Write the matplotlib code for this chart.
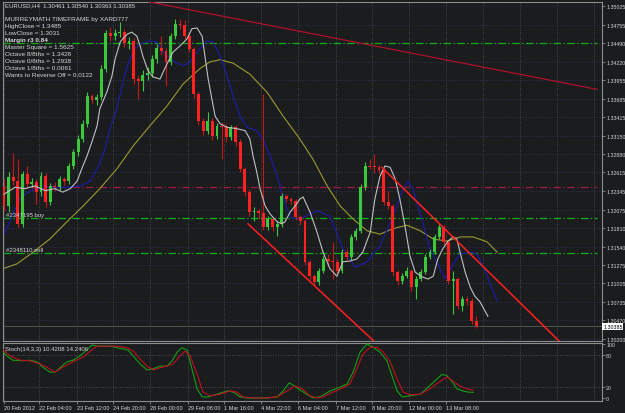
#!/usr/bin/env python3
"""
plot.py

EURUSD H4 candle chart in MT4 style: shifted moving averages, MurreyMath
info text, trend lines, order levels and a Stochastic sub-window.
Output: out.png
"""

import numpy as np
import matplotlib
matplotlib.use("Agg")
import matplotlib.pyplot as plt

# --- candles -----------------------------------------------------------------
first_open = 1.3240
closes = [
    1.3213, 1.3255, 1.3249, 1.3187, 1.3259, 1.3245, 1.3248, 1.3233, 1.3256, 1.3219,
    1.3242, 1.3240, 1.3252, 1.3249, 1.3271, 1.3291, 1.3310, 1.3332, 1.3372, 1.3367,
    1.3371, 1.3412, 1.3464, 1.3459, 1.3464, 1.3465, 1.3449, 1.3452, 1.3397, 1.3394,
    1.3403, 1.3406, 1.3426, 1.3442, 1.3438, 1.3422, 1.3459, 1.3477, 1.3476, 1.3459,
    1.3441, 1.3375, 1.3336, 1.3322, 1.3336, 1.3314, 1.3329, 1.3327, 1.3313, 1.3327,
    1.3306, 1.3267, 1.3233, 1.3204, 1.3206, 1.3203, 1.3182, 1.3194, 1.3182, 1.3187,
    1.3227, 1.3223, 1.3220, 1.3197, 1.3191, 1.3132, 1.3111, 1.3103, 1.3119, 1.3136,
    1.3133, 1.3132, 1.3119, 1.3146, 1.3139, 1.3168, 1.3177, 1.3240, 1.3271, 1.3270,
    1.3269, 1.3265, 1.3219, 1.3213, 1.3117, 1.3104, 1.3111, 1.3119, 1.3095, 1.3107,
    1.3117, 1.3139, 1.3146, 1.3168, 1.3182, 1.3161, 1.3104, 1.3107, 1.3068, 1.3078,
    1.3075, 1.30461, 1.30385]
highs = [
    1.3252, 1.3262, 1.3290, 1.3281, 1.3264, 1.3271, 1.3254, 1.3252, 1.3262, 1.3260,
    1.3246, 1.3247, 1.3256, 1.3255, 1.3275, 1.3296, 1.3316, 1.3338, 1.3378, 1.3375,
    1.3376, 1.3418, 1.3468, 1.3472, 1.3469, 1.3480, 1.3470, 1.3458, 1.3456, 1.3403,
    1.3410, 1.3414, 1.3432, 1.3448, 1.3459, 1.3442, 1.3464, 1.3484, 1.3484, 1.3483,
    1.3462, 1.3444, 1.3378, 1.3340, 1.3349, 1.3340, 1.3333, 1.3334, 1.3332, 1.3331,
    1.3330, 1.3310, 1.3270, 1.3237, 1.3211, 1.3209, 1.3375, 1.3198, 1.3197, 1.3191,
    1.3232, 1.3230, 1.3226, 1.3223, 1.3200, 1.3194, 1.3135, 1.3114, 1.3123, 1.3141,
    1.3143, 1.3161, 1.3136, 1.3150, 1.3150, 1.3172, 1.3181, 1.3245, 1.3276, 1.3281,
    1.3288, 1.3272, 1.3268, 1.3235, 1.3216, 1.3120, 1.3115, 1.3124, 1.3122, 1.3111,
    1.3121, 1.3143, 1.3150, 1.3172, 1.3188, 1.3185, 1.3164, 1.3119, 1.3110, 1.3082,
    1.3083, 1.3079, 1.30540]
lows = [
    1.3206, 1.3204, 1.3244, 1.3182, 1.3182, 1.3240, 1.3240, 1.3216, 1.3228, 1.3211,
    1.3214, 1.3235, 1.3236, 1.3243, 1.3245, 1.3266, 1.3286, 1.3305, 1.3328, 1.3362,
    1.3360, 1.3366, 1.3407, 1.3452, 1.3454, 1.3458, 1.3444, 1.3440, 1.3390, 1.3368,
    1.3380, 1.3396, 1.3400, 1.3420, 1.3432, 1.3387, 1.3418, 1.3455, 1.3470, 1.3455,
    1.3436, 1.3370, 1.3330, 1.3316, 1.3318, 1.3308, 1.3310, 1.3281, 1.3305, 1.3309,
    1.3300, 1.3262, 1.3228, 1.3198, 1.3191, 1.3194, 1.3178, 1.3178, 1.3177, 1.3170,
    1.3182, 1.3219, 1.3216, 1.3192, 1.3186, 1.3127, 1.3106, 1.3098, 1.3099, 1.3115,
    1.3126, 1.3107, 1.3115, 1.3115, 1.3134, 1.3135, 1.3164, 1.3173, 1.3236, 1.3266,
    1.3261, 1.3260, 1.3214, 1.3209, 1.3112, 1.3099, 1.3100, 1.3108, 1.3090, 1.3078,
    1.3104, 1.3114, 1.3136, 1.3143, 1.3165, 1.3157, 1.3100, 1.3056, 1.3063, 1.3060,
    1.3070, 1.3042, 1.30363]

# --- indicator lines (bar position, value) ----------------------------------
white_bars = [0, 2.4, 4.5, 6.7, 8.9, 11.0, 12.7, 14.3, 15.8, 16.8, 17.9, 19.0, 20.1,
              20.7, 22.2, 23.3, 24.0, 25.1, 26.6, 27.6, 28.7, 29.4, 30.0, 31.1, 32.2,
              33.7, 35.2, 36.5, 38.0, 39.5, 40.6, 41.7, 42.8, 43.4, 44.1, 44.9, 45.6,
              46.7, 48.2, 50.3, 52.1, 53.1, 53.8, 54.6, 55.3, 56.4, 57.5, 59.0, 60.0,
              60.7, 61.8, 62.9, 63.9, 64.6, 66.1, 67.6, 68.9, 70.4, 71.9, 73.2, 74.7,
              76.2, 77.5, 79.1, 80.1, 81.2, 82.3, 83.4, 84.5, 85.5, 86.6, 87.7, 88.8,
              90.3, 91.6, 92.7, 93.7, 94.8, 95.9, 97.0, 97.8, 98.5, 99.6, 100.7, 101.7,
              102.8, 104.5]
white_vals = [1.3230, 1.3240, 1.3238, 1.3242, 1.3235, 1.3238, 1.3233, 1.3238, 1.3249,
              1.3267, 1.3285, 1.3306, 1.3329, 1.3354, 1.3378, 1.3401, 1.3426, 1.3451,
              1.3462, 1.3465, 1.3459, 1.3445, 1.3430, 1.3409, 1.3400, 1.3397, 1.3419,
              1.3436, 1.3445, 1.3455, 1.3470, 1.3471, 1.3459, 1.3430, 1.3397, 1.3368,
              1.3343, 1.3332, 1.3327, 1.3325, 1.3322, 1.3310, 1.3285, 1.3262, 1.3238,
              1.3213, 1.3201, 1.3190, 1.3187, 1.3190, 1.3204, 1.3213, 1.3223, 1.3226,
              1.3204, 1.3175, 1.3146, 1.3122, 1.3111, 1.3132, 1.3133, 1.3136, 1.3146,
              1.3175, 1.3223, 1.3256, 1.3271, 1.3269, 1.3252, 1.3223, 1.3184, 1.3140,
              1.3117, 1.3110, 1.3107, 1.3111, 1.3136, 1.3151, 1.3162, 1.3168, 1.3165,
              1.3146, 1.3117, 1.3095, 1.3082, 1.3074, 1.3053]

blue_bars = [-0.2, 1.3, 2.4, 3.5, 4.5, 6.7, 9.9, 12.1, 14.3, 16.4, 18.6, 20.7, 21.8,
             22.9, 24.0, 25.1, 26.1, 27.2, 28.3, 29.4, 31.5, 33.0, 34.8, 36.9, 38.7,
             40.2, 42.3, 43.8, 45.1, 46.7, 48.2, 49.5, 51.0, 52.5, 54.6, 55.9, 57.5,
             59.0, 60.0, 61.1, 62.2, 63.9, 67.6, 70.4, 73.2, 75.8, 78.4, 81.2, 84.0,
             86.2, 87.3, 88.3, 89.9, 92.0, 95.3, 97.0, 98.5, 100.7, 102.2, 103.9, 106.5]
blue_vals = [1.3169, 1.3191, 1.3209, 1.3223, 1.3230, 1.3238, 1.3240, 1.3240, 1.3240,
             1.3242, 1.3249, 1.3274, 1.3296, 1.3325, 1.3346, 1.3375, 1.3404, 1.3426,
             1.3441, 1.3448, 1.3452, 1.3451, 1.3433, 1.3422, 1.3416, 1.3422, 1.3441,
             1.3452, 1.3451, 1.3430, 1.3401, 1.3372, 1.3343, 1.3327, 1.3322, 1.3310,
             1.3285, 1.3256, 1.3233, 1.3209, 1.3195, 1.3194, 1.3206, 1.3198, 1.3151,
             1.3124, 1.3132, 1.3155, 1.3198, 1.3238, 1.3249, 1.3238, 1.3201, 1.3151,
             1.3107, 1.3129, 1.3143, 1.3146, 1.3143, 1.3119, 1.3075]

yellow_bars = [-0.2, 2.8, 6.3, 9.9, 13.6, 17.1, 20.7, 24.4, 27.9, 31.5, 35.2, 38.7,
               42.3, 44.5, 46.7, 49.5, 53.1, 56.8, 60.3, 63.9, 66.7, 69.8, 72.6, 75.4,
               78.4, 81.2, 84.0, 87.0, 89.9, 92.7, 95.7, 98.5, 101.3, 104.3, 106.5]
yellow_vals = [1.3122, 1.3129, 1.3146, 1.3165, 1.3190, 1.3213, 1.3238, 1.3267, 1.3300,
               1.3329, 1.3358, 1.3390, 1.3412, 1.3422, 1.3425, 1.3420, 1.3404, 1.3378,
               1.3343, 1.3310, 1.3281, 1.3242, 1.3213, 1.3194, 1.3177, 1.3172, 1.3180,
               1.3185, 1.3177, 1.3165, 1.3162, 1.3168, 1.3168, 1.3161, 1.3146]

stoch_main_bars = [-0.4, 0.6, 1.9, 4.1, 5.6, 7.1, 8.4, 9.9, 11.0, 12.1, 13.6, 14.9,
                   16.4, 17.9, 19.0, 20.1, 21.4, 22.9, 24.4, 25.7, 26.8, 27.9, 29.4,
                   30.9, 32.2, 33.7, 35.2, 36.3, 37.4, 38.4, 39.5, 40.6, 41.7, 42.8,
                   44.1, 46.0, 48.2, 49.5, 51.0, 52.5, 54.6, 56.8, 59.0, 60.3, 61.6,
                   62.4, 63.9, 65.4, 66.7, 68.3, 70.4, 72.6, 74.1, 75.4, 76.9, 78.4,
                   79.7, 81.2, 82.7, 83.8, 84.9, 86.0, 87.7, 89.9, 91.6, 93.5, 94.6,
                   95.7, 96.8, 97.8, 99.1, 100.2, 101.3]
stoch_main_vals = [87, 78, 70, 69, 70, 67, 57, 48, 48, 56, 67, 70, 78, 89, 98, 96, 96,
                   96, 93, 91, 89, 78, 63, 52, 54, 59, 59, 69, 85, 93, 89, 54, 17, 2,
                   2, 7, 13, 11, 2, 0, 0, 0, 2, 13, 28, 24, 15, 7, 0, 2, 13, 20, 26,
                   48, 85, 100, 94, 85, 69, 41, 13, 2, 4, 7, 20, 35, 44, 41, 30, 17,
                   13, 11, 10.42]

stoch_sig_bars = [-0.4, 1.3, 3.5, 5.6, 7.8, 9.9, 11.0, 12.7, 14.9, 17.1, 18.6, 20.1,
                  22.2, 24.4, 26.6, 27.9, 29.4, 30.9, 32.2, 33.7, 35.2, 36.5, 38.0,
                  39.1, 40.2, 41.7, 43.0, 44.5, 46.7, 48.8, 50.3, 51.6, 53.8, 56.8,
                  59.0, 61.1, 62.9, 64.4, 66.1, 67.6, 68.9, 71.1, 73.2, 74.7, 76.2,
                  77.5, 79.1, 80.6, 81.9, 83.4, 84.9, 86.2, 87.7, 89.9, 92.0, 94.2,
                  95.7, 97.0, 98.5, 100.0, 101.3]
stoch_sig_vals = [91, 78, 70, 69, 63, 54, 48, 57, 67, 76, 87, 96, 96, 96, 93, 87, 72,
                  59, 52, 56, 59, 63, 78, 87, 78, 44, 11, 4, 7, 13, 11, 2, 0, 0, 2,
                  13, 22, 17, 4, 0, 2, 11, 19, 26, 54, 81, 94, 94, 85, 67, 35, 11, 6,
                  7, 17, 31, 39, 31, 22, 17, 14.24]

# --- levels, trend lines, axis labels ---------------------------------------
price_ticks = [1.35025, 1.34755, 1.34490, 1.34220, 1.33955, 1.33685, 1.33415,
               1.33150, 1.32880, 1.32615, 1.32345, 1.32075, 1.31810, 1.31540,
               1.31275, 1.31005, 1.30735, 1.30470, 1.30200]
last_price = 1.30385
green_levels = [1.34490, 1.31955, 1.31447]
pivot_level = 1.32404
trend_top_bars = [30.5, 128.1]
trend_top_vals = [1.3510, 1.3382]
channel_low_bars = [52.7, 80.2]
channel_low_vals = [1.3187, 1.3015]
channel_high_bars = [81.6, 120.2]
channel_high_vals = [1.3269, 1.3015]

date_ticks = [-0.1, 7.6, 15.8, 23.5, 31.5, 39.7, 47.5, 55.5, 63.5, 71.7, 79.5,
              87.5, 95.5]
date_labels = ["20 Feb 2012", "22 Feb 04:00", "23 Feb 12:00", "24 Feb 20:00",
               "28 Feb 00:00", "29 Feb 08:00", "1 Mar 16:00", "4 Mar 22:00",
               "6 Mar 04:00", "7 Mar 12:00", "8 Mar 20:00", "12 Mar 00:00",
               "13 Mar 08:00"]
empty_grid = [103.5, 111.5, 119.5, 127.5]

info_lines = ["MURREYMATH TIMEFRAME by XARD777", "HighClose = 1.3485",
              "LowClose = 1.3031", "Margin r3 0.84", "Master Square = 1.5625",
              "Octave 8/8ths = 1.3428", "Octave 0/8ths = 1.2938",
              "Octave 1/8ths = 0.0061", "Wants to Reverse Off = 0.0122"]

BG = "#1b1c1e"
TXT = "#d6d6d6"
UP = "#3cc83c"
DOWN = "#ff2222"
FONT = "Liberation Sans"

W, H = 625, 414
XL = (-1 / 4.63, 598 / 4.63)


def fx(px):
    return px / W


def fy(py):
    return 1 - py / H


def style_axes(ax):
    ax.set_facecolor(BG)
    for s in ax.spines.values():
        s.set_color("#8c8c8c")
        s.set_linewidth(0.8)
    ax.set_xlim(*XL)


def draw_grid(ax, yvals):
    for x in date_ticks + empty_grid:
        ax.axvline(x, color="#6e6e6e", lw=0.5, ls=(0, (1, 2.5)), zorder=0)
    for y in yvals:
        ax.axhline(y, color="#3c4276", lw=0.5, ls=(0, (1, 2.5)), zorder=0)


def draw_candles(ax):
    c = np.array(closes)
    o = np.array([first_open] + closes[:-1])
    hi = np.array(highs)
    lo = np.array(lows)
    x = np.arange(len(c))
    up = c >= o
    ax.vlines(x[up], lo[up], hi[up], colors=UP, lw=0.8, zorder=3)
    ax.vlines(x[~up], lo[~up], hi[~up], colors="#c81818", lw=0.8, zorder=3)
    bottom = np.minimum(o, c)
    height = np.maximum(np.abs(c - o), 0.00012)
    ax.bar(x[up], height[up], bottom=bottom[up], width=0.62, color=UP,
           linewidth=0, zorder=4)
    ax.bar(x[~up], height[~up], bottom=bottom[~up], width=0.62, color=DOWN,
           linewidth=0, zorder=4)


def main():
    fig = plt.figure(figsize=(W / 100, H / 100), dpi=100, facecolor=BG)
    ax = fig.add_axes([fx(3), fy(342), fx(599), 339 / H])
    ax2 = fig.add_axes([fx(3), fy(402), fx(599), 58 / H])

    # main window
    style_axes(ax)
    ax.set_ylim(1.30171, 1.35087)
    draw_grid(ax, price_ticks)
    for lv in green_levels:
        ax.plot([XL[0], 128.1], [lv, lv], color="#10b010", lw=0.9,
                ls=(0, (6, 2, 1, 2)), zorder=1)
    ax.plot([XL[0], 128.1], [pivot_level] * 2, color="#a0184c", lw=0.9,
            ls=(0, (6, 2, 1, 2)), zorder=1)
    ax.axhline(last_price, color="#5a5a5a", lw=0.6, zorder=1)

    ax.plot(yellow_bars, yellow_vals, color="#9c9a30", lw=0.8, zorder=2)
    ax.plot(blue_bars, blue_vals, color="#1c1ca0", lw=0.9, zorder=2)
    draw_candles(ax)
    ax.plot(white_bars, white_vals, color="#c0c0c0", lw=0.8, zorder=5)

    ax.plot(trend_top_bars, trend_top_vals, color="#b0102c", lw=0.9, zorder=5)
    ax.plot(channel_low_bars, channel_low_vals, color="#ff2020", lw=1.1, zorder=5)
    ax.plot(channel_high_bars, channel_high_vals, color="#ff2020", lw=1.1, zorder=5)

    ax.yaxis.tick_right()
    ax.set_yticks(price_ticks)
    ax.set_yticklabels([f"{p:.5f}" for p in price_ticks])
    ax.tick_params(axis="y", colors="#8c8c8c", length=2, width=0.6, pad=1,
                   labelsize=3.8, labelcolor=TXT)
    ax.set_xticks([])
    ax.text(1.002, last_price, f"{last_price:.5f}", transform=ax.get_yaxis_transform(),
            fontsize=3.8, family=FONT, color="black", va="center", ha="left",
            bbox=dict(boxstyle="square,pad=0.15", fc="white", ec="none"))

    ax.text(fx(3), 215.5, "", transform=fig.transFigure)
    fig.text(fx(6), fy(216), "#2347195 buy", fontsize=4.3, family=FONT,
             color=TXT, va="center")
    fig.text(fx(6), fy(251), "#2348110 sell", fontsize=4.3, family=FONT,
             color=TXT, va="center")

    # header and MurreyMath info block
    fig.text(fx(5), fy(6), "EURUSD,H4  1.30461 1.30540 1.30363 1.30385",
             fontsize=4.3, family=FONT, color=TXT, va="center")
    for k, line in enumerate(info_lines):
        fig.text(fx(5), fy(19 + 7.1 * k), line, fontsize=4.6, family=FONT,
                 color=TXT, va="center",
                 fontweight="bold" if k == 3 else "normal")

    # stochastic window
    style_axes(ax2)
    ax2.set_ylim(-5.6, 101.9)
    draw_grid(ax2, [])
    for lv in [20, 80]:
        ax2.axhline(lv, color="#7a7a7a", lw=0.5, ls=(0, (1, 2.5)), zorder=0)
    ax2.plot(stoch_main_bars, stoch_main_vals, color="#12a012", lw=0.8, zorder=3)
    ax2.plot(stoch_sig_bars, stoch_sig_vals, color="#c01022", lw=0.8, zorder=3)
    ax2.yaxis.tick_right()
    ax2.set_yticks([0, 20, 80, 100])
    ax2.set_yticklabels(["0", "20", "80", "100"])
    ax2.tick_params(axis="y", colors="#8c8c8c", length=2, width=0.6, pad=1,
                    labelsize=3.8, labelcolor=TXT)
    ax2.set_xticks(date_ticks)
    ax2.set_xticklabels(date_labels)
    ax2.tick_params(axis="x", colors="#8c8c8c", length=2, width=0.6, pad=1,
                    labelsize=4, labelcolor=TXT)
    for lab in ax2.get_xticklabels():
        lab.set_horizontalalignment("left")
        lab.set_family(FONT)
    for lab in ax.get_yticklabels() + ax2.get_yticklabels():
        lab.set_family(FONT)
    ax2.text(0.004, 0.9, "Stoch(14,3,3) 10.4208 14.2406", transform=ax2.transAxes,
             fontsize=4.3, family=FONT, color=TXT, va="center")

    fig.savefig("out.png", dpi=100, facecolor=BG)
    plt.close(fig)


if __name__ == "__main__":
    main()
